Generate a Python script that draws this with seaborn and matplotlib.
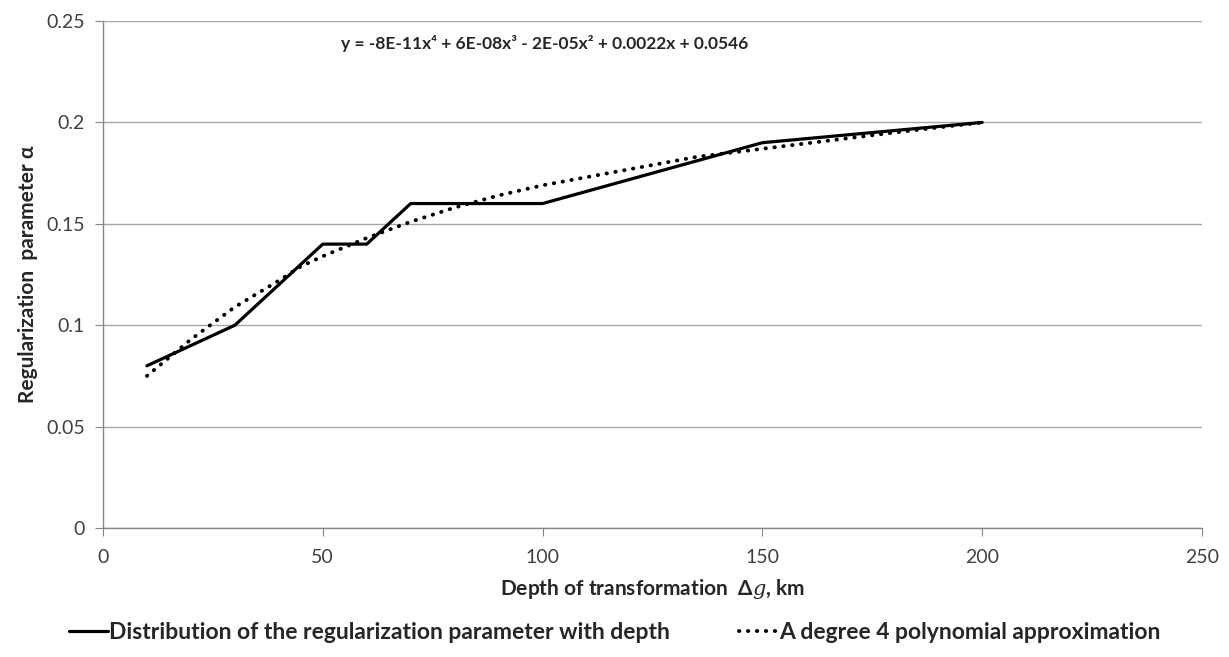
import numpy as np
import pandas as pd
import seaborn as sns
import matplotlib.pyplot as plt

# data
depth = [10, 30, 50, 60, 70, 100, 150, 200]
alpha = [0.08, 0.10, 0.14, 0.14, 0.16, 0.16, 0.19, 0.20]

# dotted trend line
trend_depth = [10, 15, 20, 25, 30, 40, 45, 50, 60, 70, 80, 90, 100, 115, 125, 135, 150, 165, 180, 200]
trend_alpha = [0.075, 0.084, 0.093, 0.101, 0.109, 0.122, 0.129, 0.134, 0.143, 0.151, 0.158,
               0.164, 0.169, 0.175, 0.179, 0.183, 0.187, 0.191, 0.195, 0.200]

x_ticks = [0, 50, 100, 150, 200, 250]
y_ticks = [0, 0.05, 0.1, 0.15, 0.2, 0.25]
y_tick_labels = ["0", "0.05", "0.1", "0.15", "0.2", "0.25"]

series_names = ["Distribution of the regularization parameter with depth",
                "A degree 4 polynomial approximation"]
equation = "y = -8E-11x⁴ + 6E-08x³ - 2E-05x² + 0.0022x + 0.0546"

sns.set_style("white")
plt.rcParams['font.family'] = ['Lato', 'DejaVu Sans']
plt.rcParams['mathtext.fontset'] = 'dejavuserif'

df = pd.DataFrame({"depth": depth, "alpha": alpha})
trend = pd.DataFrame({"depth": trend_depth, "alpha": trend_alpha})

fig = plt.figure(figsize=(12.29, 6.57), dpi=100)
ax = fig.add_axes([0.0838, 0.1963, 0.8942, 0.7717])

sns.lineplot(data=df, x="depth", y="alpha", ax=ax, color="black", linewidth=2.3,
             label=series_names[0])
sns.lineplot(data=trend, x="depth", y="alpha", ax=ax, color="black", linewidth=2.8,
             linestyle=(0, (0.1, 2.2)), dash_capstyle="round", label=series_names[1])

ax.set_xlim(0, 250)
ax.set_ylim(0, 0.25)
ax.set_xticks(x_ticks)
ax.set_yticks(y_ticks)
ax.set_yticklabels(y_tick_labels)
ax.yaxis.grid(True, color="#a6a6a6", linewidth=1)
ax.xaxis.grid(False)
for s in ["top", "right"]:
    ax.spines[s].set_visible(False)
for s in ["left", "bottom"]:
    ax.spines[s].set_color("#868686")
    ax.spines[s].set_linewidth(1)
ax.tick_params(axis="both", colors="#868686", labelcolor="#404040", labelsize=14,
               length=6, direction="out")
ax.tick_params(axis="y", pad=7)
ax.tick_params(axis="x", pad=9, bottom=True)
ax.tick_params(axis="y", left=True)

ax.set_xlabel(r"Depth of transformation  Δ$\mathit{g}$, km", fontsize=15,
              fontweight="bold", labelpad=8)
ax.set_ylabel("Regularization  parameter α", fontsize=15, fontweight="bold", labelpad=6)

ax.text(0.402, 0.955, equation, transform=ax.transAxes, ha="center", va="center",
        fontsize=12.5, fontweight="bold")

ax.get_legend().remove()
handles, labels = ax.get_legend_handles_labels()
fig.legend(handles, labels, loc="center", bbox_to_anchor=(0.5, 0.038), ncol=2,
           frameon=False, handlelength=1.7, handletextpad=0.05, columnspacing=3.0,
           prop={"size": 16.5, "weight": "bold"})

fig.savefig("out.png", dpi=100)
